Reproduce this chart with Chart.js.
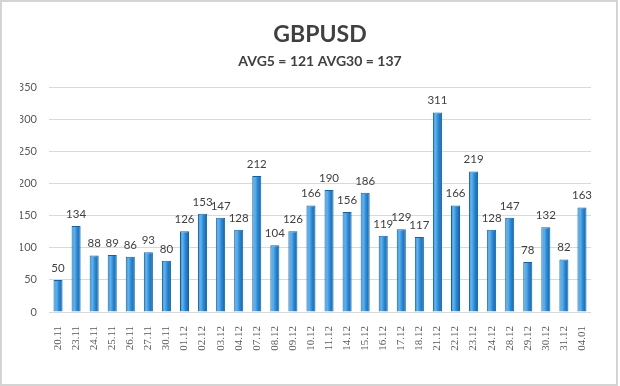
<!DOCTYPE html>
<html>
<head>
<meta charset="utf-8">
<script src="https://cdn.jsdelivr.net/npm/chart.js@4/dist/chart.umd.min.js"></script>
<style>
html,body{margin:0;padding:0;background:#fff;}
#wrap{width:620px;height:386px;position:relative;}
</style>
</head>
<body>
<div id="wrap"><canvas id="c" width="620" height="386"></canvas></div>
<script>
const categories = ["20.11","23.11","24.11","25.11","26.11","27.11","30.11","01.12","02.12","03.12","04.12","07.12","08.12","09.12","10.12","11.12","14.12","15.12","16.12","17.12","18.12","21.12","22.12","23.12","24.12","28.12","29.12","30.12","31.12","04.01"];
const values = [50,134,88,89,86,93,80,126,153,147,128,212,104,126,166,190,156,186,119,129,117,311,166,219,128,147,78,132,82,163];
const yTicks = [0,50,100,150,200,250,300,350];
const titleText = "GBPUSD";
const subtitleText = "AVG5 = 121 AVG30 = 137";

const barLabels = {
  id: 'barLabels',
  afterDatasetsDraw(chart) {
    const ctx = chart.ctx;
    const meta = chart.getDatasetMeta(0);
    ctx.save();
    ctx.font = '11.5px Lato, "Open Sans", sans-serif';
    ctx.fillStyle = '#404040';
    ctx.textAlign = 'center';
    ctx.textBaseline = 'bottom';
    meta.data.forEach((el, i) => {
      ctx.fillText(String(values[i]), el.x, el.y - 6);
    });
    ctx.restore();
  }
};

const frame = {
  id: 'frame',
  beforeDraw(chart) {
    const ctx = chart.ctx;
    ctx.save();
    ctx.fillStyle = '#ffffff';
    ctx.fillRect(0, 0, chart.width, chart.height);
    ctx.restore();
  },
  afterDraw(chart) {
    const ctx = chart.ctx;
    ctx.save();
    ctx.strokeStyle = '#d4d4d4';
    ctx.lineWidth = 2;
    ctx.strokeRect(1, 1, chart.width - 4, chart.height - 2);
    ctx.restore();
  }
};

function barGradient(context) {
  const chart = context.chart;
  const xs = chart.scales && chart.scales.x;
  if (!xs || context.dataIndex === undefined) return '#2b8ad6';
  const cx = xs.getPixelForValue(context.dataIndex);
  const w = (xs.width / categories.length) * 0.5;
  if (!isFinite(cx) || !isFinite(w) || w <= 0) return '#2b8ad6';
  const g = chart.ctx.createLinearGradient(cx - w / 2, 0, cx + w / 2, 0);
  g.addColorStop(0, '#3f9be0');
  g.addColorStop(0.3, '#5fb2ec');
  g.addColorStop(0.6, '#2689d8');
  g.addColorStop(1, '#1462a8');
  return g;
}

new Chart(document.getElementById('c'), {
  type: 'bar',
  data: {
    labels: categories,
    datasets: [{
      data: values,
      backgroundColor: barGradient,
      borderColor: '#17609f',
      borderWidth: 1,
      borderSkipped: 'bottom',
      barPercentage: 0.5,
      categoryPercentage: 1.0
    }]
  },
  options: {
    responsive: false,
    animation: false,
    devicePixelRatio: 1,
    layout: { padding: { left: 20, right: 0, top: 0, bottom: 0 } },
    plugins: {
      legend: { display: false },
      tooltip: { enabled: false },
      title: {
        display: true,
        text: titleText,
        color: '#404040',
        font: { family: 'Lato, "Open Sans", sans-serif', size: 23, weight: 'bold', lineHeight: 1.2 },
        padding: { top: 21, bottom: 4 }
      },
      subtitle: {
        display: true,
        text: subtitleText,
        color: '#404040',
        font: { family: 'Lato, "Open Sans", sans-serif', size: 14, weight: 'bold', lineHeight: 1.2 },
        padding: { top: 0, bottom: 18 }
      }
    },
    scales: {
      y: {
        min: 0,
        max: 350,
        afterFit(scale) { scale.width = 29; },
        afterBuildTicks(scale) { scale.ticks = yTicks.map(v => ({ value: v })); },
        border: { display: false },
        grid: { color: '#d9d9d9', drawTicks: false, lineWidth: 1 },
        ticks: {
          padding: 12,
          color: '#595959',
          font: { family: 'Lato, "Open Sans", sans-serif', size: 11 }
        }
      },
      yRight: {
        position: 'right',
        min: 0,
        max: 350,
        afterFit(scale) { scale.width = 29; },
        border: { display: false },
        grid: { display: false, drawTicks: false },
        ticks: { display: false }
      },
      x: {
        afterFit(scale) { scale.height = 74; },
        border: { display: false },
        grid: { display: false },
        ticks: {
          autoSkip: false,
          minRotation: 90,
          maxRotation: 90,
          padding: 6,
          color: '#595959',
          font: { family: '"Liberation Serif", serif', size: 11 }
        }
      }
    }
  },
  plugins: [frame, barLabels]
});
</script>
</body>
</html>
